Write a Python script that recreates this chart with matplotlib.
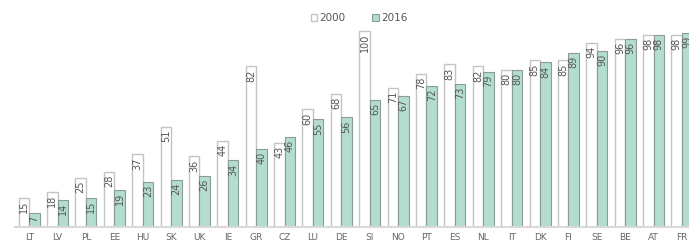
import matplotlib.pyplot as plt
import numpy as np

countries = ["LT", "LV", "PL", "EE", "HU", "SK", "UK", "IE", "GR", "CZ", "LU", "DE",
             "SI", "NO", "PT", "ES", "NL", "IT", "DK", "FI", "SE", "BE", "AT", "FR"]
v2000 = [15, 18, 25, 28, 37, 51, 36, 44, 82, 43, 60, 68,
         100, 71, 78, 83, 82, 80, 85, 85, 94, 96, 98, 98]
v2016 = [7, 14, 15, 19, 23, 24, 26, 34, 40, 46, 55, 56,
         65, 67, 72, 73, 79, 80, 84, 89, 90, 96, 98, 99]

W, H = 689, 242
fig = plt.figure(figsize=(W / 100, H / 100), dpi=100)
ax = fig.add_axes([15 / W, 15 / H, 1 - 15 / W, 1 - 15 / H - 10 / H])

x = np.arange(len(countries))
bw = 0.37
green = "#b3ddd0"
b1 = ax.bar(x - bw / 2, v2000, bw, color="white", edgecolor="#c4c4c4", linewidth=1.0, label="2000")
b2 = ax.bar(x + bw / 2, v2016, bw, color=green, edgecolor="#8a9c95", linewidth=0.8, label="2016")

# value labels inside the top of each bar
for xi, v in zip(x, v2000):
    ax.text(xi - bw / 2, v - 1.5, str(v), rotation=90, ha="center", va="top",
            fontsize=7, color="#555555")
for xi, v in zip(x, v2016):
    ax.text(xi + bw / 2, v - 1.5, str(v), rotation=90, ha="center", va="top",
            fontsize=7, color="#555555")

ax.set_xlim(-0.5, 23.25)
ax.set_ylim(0, 100 * (227 - 10) / 196)
ax.set_xticks(x)
ax.set_xticklabels(countries, fontsize=6.5, color="#666666")
ax.tick_params(axis="x", length=0, pad=4)
ax.set_yticks([])
for s in ["top", "right", "left"]:
    ax.spines[s].set_visible(False)
ax.spines["bottom"].set_color("#d9d9d9")
ax.spines["bottom"].set_linewidth(1.5)

leg = fig.legend(handles=[b1, b2], loc="center", bbox_to_anchor=(359 / W, 1 - 18 / H),
                 ncol=2, frameon=False, fontsize=7.5, handlelength=0.6, handleheight=0.6,
                 handletextpad=0.2, columnspacing=2.6)
for t in leg.get_texts():
    t.set_color("#555555")

fig.savefig("out.png", dpi=100)
